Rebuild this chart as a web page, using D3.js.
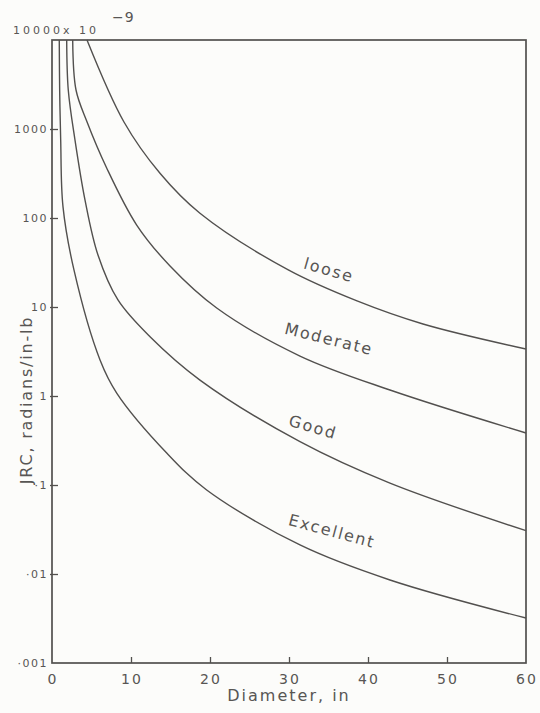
<!DOCTYPE html>
<html>
<head>
<meta charset="utf-8">
<script src="https://cdn.jsdelivr.net/npm/d3@7/dist/d3.min.js"></script>
<style>
  html, body { margin: 0; padding: 0; background: #fcfcfa; }
  svg { display: block; }
  text { font-family: "DejaVu Sans", sans-serif; fill: #585654; }
</style>
</head>
<body>
<svg id="chart" width="540" height="713"></svg>
<script>
// ---- Data (JRC in units of 10^-9 radians/in-lb) ----
const seriesNames = ["loose", "Moderate", "Good", "Excellent"];

const looseDiameter = [4.43, 9.11, 13.67, 18.73, 29.91, 38.61, 46.96, 60];
const looseJRC      = [10000, 1199, 318, 113, 26.1, 11.7, 6.44, 3.37];

const moderateDiameter = [2.62, 3.04, 4.39, 6.92, 10.72, 14.94, 20.85, 31.39, 42.78, 60];
const moderateJRC      = [10000, 2742, 1230, 365, 83.4, 28.9, 9.75, 2.81, 1.167, 0.384];

const goodDiameter = [1.86, 2.06, 2.91, 4.18, 5.82, 8.35, 12.41, 18.73, 31.39, 42.78, 60];
const goodJRC      = [10000, 2742, 752, 159, 38.4, 12.0, 4.63, 1.51, 0.307, 0.105, 0.0307];

const excellentDiameter = [0.92, 0.97, 1.10, 1.39, 2.78, 6.08, 8.19, 14.52, 19.58, 31.39, 42.78, 60];
const excellentJRC      = [10000, 2742, 752, 134, 26.1, 2.54, 1.08, 0.229, 0.0879, 0.0212, 0.00857, 0.0032];

const xTicks = [0, 10, 20, 30, 40, 50, 60];
const xTickLabels = ["0", "10", "20", "30", "40", "50", "60"];
const yTicks = [10000, 1000, 100, 10, 1, 0.1, 0.01, 0.001];
const yTickLabels = ["10000x 10", "1000", "100", "10", "1", "·1", "·01", "·001"];
const yExponent = "−9";
const xTitle = "Diameter, in";
const yTitle = "JRC, radians/in-lb";

// ---- Layout ----
const svg = d3.select("#chart");
const mLeft = 52, mRight = 526, mTop = 40, mBottom = 663;
const ink = "#52504e";

const x = d3.scaleLinear().domain([0, 60]).range([mLeft, mRight]);
const y = d3.scaleLog().domain([0.001, 10000]).range([mBottom, mTop]);

// frame
svg.append("rect")
  .attr("x", mLeft).attr("y", mTop)
  .attr("width", mRight - mLeft).attr("height", mBottom - mTop)
  .attr("fill", "none").attr("stroke", ink).attr("stroke-width", 1.7);

// x axis ticks (inward)
const xAxis = d3.axisBottom(x).tickValues(xTicks).tickSize(-6).tickFormat("");
const gx = svg.append("g").attr("transform", `translate(0,${mBottom})`).call(xAxis);
gx.select(".domain").remove();
gx.selectAll(".tick line").attr("stroke", ink).attr("stroke-width", 1.3)
  .filter(d => d === 0 || d === 60).remove();
svg.append("g").selectAll("text").data(xTicks).join("text")
  .attr("x", d => x(d) + 1).attr("y", 684)
  .attr("text-anchor", "middle")
  .attr("font-size", 14).attr("letter-spacing", 2)
  .text((d, i) => xTickLabels[i]);

// y axis ticks (crossing axis)
const yAxis = d3.axisLeft(y).tickValues(yTicks).tickSize(3).tickFormat("");
const gy = svg.append("g").attr("transform", `translate(${mLeft},0)`).call(yAxis);
gy.select(".domain").remove();
gy.selectAll(".tick line").attr("stroke", ink).attr("stroke-width", 1.3)
  .attr("x2", 6).attr("x1", -2)
  .filter(d => d === 10000 || d === 0.001).remove();

svg.append("g").selectAll("text").data(yTicks.slice(1)).join("text")
  .attr("x", mLeft - 4).attr("y", d => y(d) + 4)
  .attr("text-anchor", "end")
  .attr("font-size", 11).attr("letter-spacing", 1.5)
  .text((d, i) => yTickLabels[i + 1]);

// top label "10000x 10^-9"
svg.append("text")
  .attr("x", 13).attr("y", 34)
  .attr("font-size", 11).attr("letter-spacing", 3)
  .text(yTickLabels[0]);
svg.append("text")
  .attr("x", 112).attr("y", 22)
  .attr("font-size", 14).attr("letter-spacing", 1)
  .text(yExponent);

// titles
svg.append("text")
  .attr("x", 289).attr("y", 701)
  .attr("text-anchor", "middle")
  .attr("font-size", 16).attr("letter-spacing", 2)
  .text(xTitle);
svg.append("text")
  .attr("transform", "translate(32,400) rotate(-90)")
  .attr("text-anchor", "middle")
  .attr("font-size", 16).attr("letter-spacing", 1.8)
  .text(yTitle);

// curves
const series = [
  { name: seriesNames[0], xs: looseDiameter, ys: looseJRC },
  { name: seriesNames[1], xs: moderateDiameter, ys: moderateJRC },
  { name: seriesNames[2], xs: goodDiameter, ys: goodJRC },
  { name: seriesNames[3], xs: excellentDiameter, ys: excellentJRC }
];
const line = d3.line()
  .x(p => x(p[0])).y(p => y(p[1]))
  .curve(d3.curveCatmullRom.alpha(0.5));

svg.append("g").selectAll("path").data(series).join("path")
  .attr("d", s => line(s.xs.map((v, i) => [v, s.ys[i]])))
  .attr("fill", "none").attr("stroke", ink).attr("stroke-width", 1.4);

// curve labels
const labelPos = [
  { cx: 329, cy: 270, rot: 16 },
  { cx: 329, cy: 339, rot: 14 },
  { cx: 313, cy: 427, rot: 16 },
  { cx: 332, cy: 531, rot: 15 }
];
svg.append("g").selectAll("text").data(series).join("text")
  .attr("transform", (s, i) => `translate(${labelPos[i].cx},${labelPos[i].cy}) rotate(${labelPos[i].rot})`)
  .attr("text-anchor", "middle").attr("dy", "0.35em")
  .attr("font-size", 16).attr("letter-spacing", 1.8)
  .text(s => s.name);
</script>
</body>
</html>
